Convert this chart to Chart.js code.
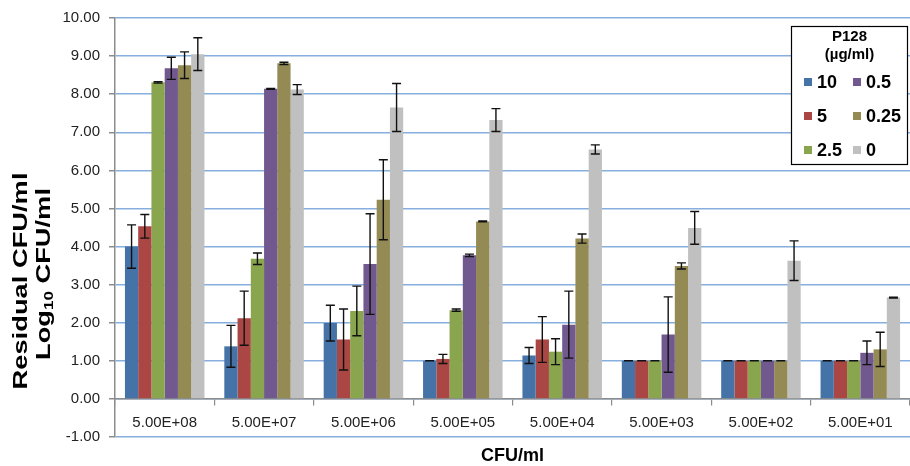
<!DOCTYPE html>
<html>
<head>
<meta charset="utf-8">
<script src="https://cdn.jsdelivr.net/npm/chart.js@4.4.0/dist/chart.umd.min.js"></script>
<style>
  body { margin: 0; background: #fff; }
  #wrap { width: 910px; height: 466px; }
</style>
</head>
<body>
<div id="wrap"><canvas id="chart"></canvas></div>
<script>
// inoculum levels on the x axis
const categories = ['5.00E+08', '5.00E+07', '5.00E+06', '5.00E+05', '5.00E+04', '5.00E+03', '5.00E+02', '5.00E+01'];

// P128 concentrations (µg/ml)
const doses = ['10', '5', '2.5', '0.5', '0.25', '0'];

// residual log10 CFU/ml, mean and error per concentration
const dose10 = [4.00, 1.38, 1.99, 1.00, 1.14, 1.00, 1.00, 1.00];
const dose10Err = [0.57, 0.55, 0.47, 0.00, 0.21, 0.00, 0.00, 0.00];
const dose5 = [4.53, 2.12, 1.56, 1.05, 1.56, 1.00, 1.00, 1.00];
const dose5Err = [0.31, 0.71, 0.80, 0.12, 0.60, 0.00, 0.00, 0.00];
const dose2_5 = [8.31, 3.68, 2.31, 2.33, 1.24, 1.00, 1.00, 1.00];
const dose2_5Err = [0.02, 0.15, 0.65, 0.03, 0.34, 0.00, 0.00, 0.00];
const dose0_5 = [8.68, 8.14, 3.54, 3.77, 1.95, 1.69, 1.00, 1.21];
const dose0_5Err = [0.29, 0.01, 1.32, 0.03, 0.88, 0.99, 0.00, 0.31];
const dose0_25 = [8.76, 8.81, 5.23, 4.66, 4.21, 3.49, 1.00, 1.30];
const dose0_25Err = [0.35, 0.03, 1.05, 0.01, 0.12, 0.08, 0.00, 0.45];
const dose0 = [9.05, 8.12, 7.65, 7.32, 6.55, 4.49, 3.63, 2.66];
const dose0Err = [0.43, 0.13, 0.63, 0.30, 0.12, 0.43, 0.52, 0.01];

// y axis range
const yMin = -1;
const yMax = 10;

const colors = ['#4572a7', '#aa4643', '#89a54e', '#71588f', '#948a54', '#c0c0c0'];
const series = [dose10, dose5, dose2_5, dose0_5, dose0_25, dose0];
const seriesErr = [dose10Err, dose5Err, dose2_5Err, dose0_5Err, dose0_25Err, dose0Err];

const FONT = '"Liberation Sans", Arial, sans-serif';

// vertical error bars with caps, drawn from each dataset's errors
const errorBars = {
  id: 'errorBars',
  afterDatasetsDraw(chart) {
    const ctx = chart.ctx;
    const y = chart.scales.y;
    ctx.save();
    ctx.strokeStyle = '#111';
    ctx.lineWidth = 1.4;
    chart.data.datasets.forEach((ds, i) => {
      chart.getDatasetMeta(i).data.forEach((bar, j) => {
        const v = ds.data[j];
        const e = ds.errors[j];
        const top = y.getPixelForValue(v + e);
        const bot = y.getPixelForValue(v - e);
        const x = bar.x;
        ctx.beginPath();
        ctx.moveTo(x, top); ctx.lineTo(x, bot);
        ctx.moveTo(x - 4.5, top); ctx.lineTo(x + 4.5, top);
        ctx.moveTo(x - 4.5, bot); ctx.lineTo(x + 4.5, bot);
        ctx.stroke();
      });
    });
    ctx.restore();
  }
};

// axis titles and the boxed two-column legend
const annotations = {
  id: 'annotations',
  afterDraw(chart) {
    const ctx = chart.ctx;
    const area = chart.chartArea;
    ctx.save();
    ctx.fillStyle = '#000';

    // y title, two rotated lines
    const stretch = 1.3;
    ctx.textBaseline = 'middle';
    ctx.save();
    ctx.translate(21, 281);
    ctx.rotate(-Math.PI / 2);
    ctx.scale(stretch, 1);
    ctx.font = 'bold 21px ' + FONT;
    ctx.textAlign = 'center';
    ctx.fillText('Residual CFU/ml', 0, 0);
    ctx.restore();

    ctx.save();
    ctx.translate(44, 274);
    ctx.rotate(-Math.PI / 2);
    ctx.scale(stretch, 1);
    ctx.textAlign = 'left';
    const big = 'bold 21px ' + FONT;
    const small = 'bold 13px ' + FONT;
    ctx.font = big;
    const wLog = ctx.measureText('Log').width;
    const wRest = ctx.measureText(' CFU/ml').width;
    ctx.font = small;
    const wSub = ctx.measureText('10').width;
    let x = -(wLog + wSub + wRest) / 2;
    ctx.font = big;
    ctx.fillText('Log', x, 0);
    x += wLog;
    ctx.font = small;
    ctx.fillText('10', x, 5);
    x += wSub;
    ctx.font = big;
    ctx.fillText(' CFU/ml', x, 0);
    ctx.restore();

    // x title
    ctx.font = 'bold 18px ' + FONT;
    ctx.textAlign = 'center';
    ctx.fillText('CFU/ml', (area.left + area.right) / 2, 456);

    // legend box
    const bx = area.right - 119, by = area.top + 8, bw = 117, bh = 139;
    ctx.fillStyle = '#fff';
    ctx.fillRect(bx, by, bw, bh);
    ctx.strokeStyle = '#000';
    ctx.lineWidth = 1.2;
    ctx.strokeRect(bx + 0.5, by + 0.5, bw - 1, bh - 1);
    ctx.fillStyle = '#000';
    ctx.font = 'bold 15px ' + FONT;
    ctx.fillText('P128', bx + bw / 2, by + 11);
    ctx.fillText('(µg/ml)', bx + bw / 2, by + 29);
    ctx.font = 'bold 18px ' + FONT;
    ctx.textAlign = 'left';
    chart.data.datasets.forEach((ds, i) => {
      const col = Math.floor(i / 3), row = i % 3;
      const sx = bx + 13 + col * 49;
      const sy = by + 56 + row * 34;
      ctx.fillStyle = ds.backgroundColor;
      ctx.fillRect(sx, sy - 4, 8, 8);
      ctx.fillStyle = '#000';
      ctx.fillText(ds.label, sx + 13, sy + 1);
    });
    ctx.restore();
  }
};

new Chart(document.getElementById('chart'), {
  type: 'bar',
  data: {
    labels: categories,
    datasets: doses.map((d, i) => ({
      label: d,
      data: series[i],
      errors: seriesErr[i],
      backgroundColor: colors[i],
      borderWidth: 0,
      categoryPercentage: 0.8,
      barPercentage: 1.0
    }))
  },
  options: {
    responsive: true,
    maintainAspectRatio: false,
    animation: false,
    layout: { padding: { top: 16, right: 0, left: 0, bottom: 29 } },
    scales: {
      x: {
        position: { y: 0 },
        grid: { offset: true, drawOnChartArea: false, tickLength: 6, color: '#8c8c8c', lineWidth: 1.2 },
        border: { color: '#8c8c8c', width: 1.5 },
        ticks: { font: { size: 15, family: FONT }, color: '#222', padding: 9, maxRotation: 0 },
        afterFit(s) { s.height = 0; }
      },
      y: {
        min: yMin,
        max: yMax,
        ticks: {
          stepSize: 1,
          callback: v => v.toFixed(2),
          font: { size: 15, family: FONT },
          color: '#222',
          padding: 9
        },
        grid: { color: '#86aede', lineWidth: 1.5, tickColor: '#8c8c8c', tickLength: 6 },
        border: { color: '#8c8c8c', width: 1.5 },
        afterFit(s) { s.width = 115; }
      }
    },
    plugins: {
      legend: { display: false },
      tooltip: { enabled: false }
    }
  },
  plugins: [errorBars, annotations]
});
</script>
</body>
</html>
